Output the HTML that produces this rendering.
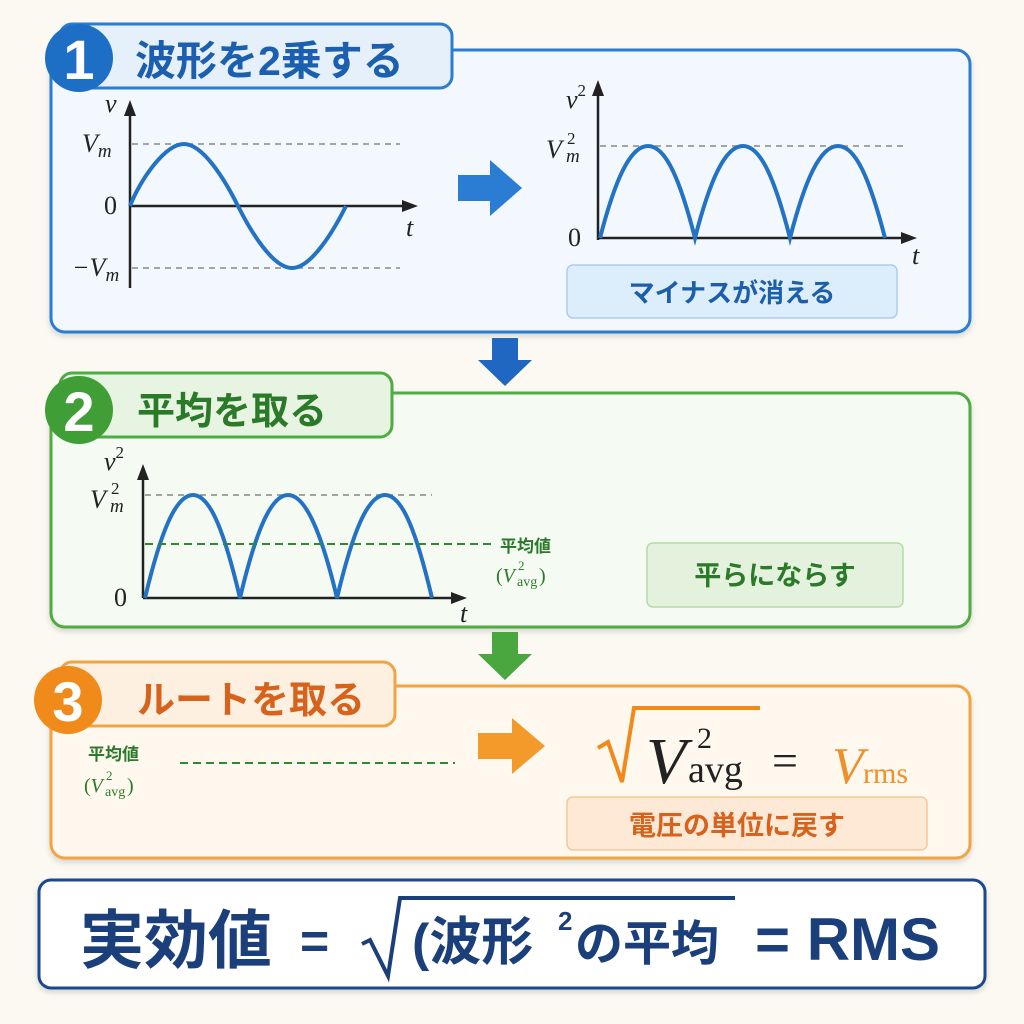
<!DOCTYPE html>
<html><head><meta charset="utf-8"><style>
html,body{margin:0;padding:0;background:#fbf9f2;}
svg{display:block}
.jp{font-family:"Liberation Sans","Noto Sans CJK JP",sans-serif;font-weight:bold}
.m{font-family:"Liberation Serif",serif;font-style:italic}
.r{font-family:"Liberation Serif",serif}
</style></head><body>
<svg width="1024" height="1024" viewBox="0 0 1024 1024" xmlns="http://www.w3.org/2000/svg">
<defs>
<filter id="sh" x="-5%" y="-5%" width="110%" height="115%"><feDropShadow dx="0" dy="3" stdDeviation="3" flood-opacity="0.15"/></filter>
</defs>
<rect width="1024" height="1024" fill="#fbf9f2"/>

<!-- Panel 1 -->
<rect x="51" y="50" width="919" height="282" rx="14" fill="#f3f8fe" stroke="#2a7dd2" stroke-width="3" filter="url(#sh)"/>
<rect x="60" y="24" width="392" height="64" rx="12" fill="#e5f0fb" stroke="#2a7dd2" stroke-width="3"/>
<circle cx="79" cy="58" r="34" fill="#1c6fc4"/>
<text x="79" y="79" text-anchor="middle" class="jp" font-size="56" fill="#fff">1</text>
<text x="135" y="75" class="jp" font-size="41" fill="#1b5fae">波形を2乗する</text>

<!-- graph 1 -->
<g stroke="#888" stroke-width="1.5" stroke-dasharray="6,5">
<line x1="132" y1="144" x2="400" y2="144"/><line x1="132" y1="268" x2="400" y2="268"/>
</g>
<line x1="130" y1="288" x2="130" y2="112" stroke="#222" stroke-width="2.5"/>
<polygon points="130,100 124,116 136,116" fill="#222"/>
<line x1="130" y1="206" x2="405" y2="206" stroke="#222" stroke-width="2.5"/>
<polygon points="418,206 402,200 402,212" fill="#222"/>
<path d="M130,206 C140,180 165,144 184,144 C203,144 225,180 238,206 C251,232 273,268 292,268 C311,268 333,232 346,206" fill="none" stroke="#2372c4" stroke-width="4"/>
<text x="105" y="112" class="m" font-size="26" fill="#222">v</text>
<text x="82" y="152" class="m" font-size="26" fill="#222">V<tspan font-size="19" dy="5">m</tspan></text>
<text x="104" y="214" class="r" font-size="26" fill="#222">0</text>
<text x="72" y="276" class="m" font-size="26" fill="#222">−V<tspan font-size="19" dy="5">m</tspan></text>
<text x="406" y="236" class="m" font-size="26" fill="#222">t</text>

<!-- blue arrow -->
<polygon points="458,175 490,175 490,160 522,188 490,216 490,201 458,201" fill="#2a7dd2"/>

<!-- graph 2 -->
<line x1="600" y1="146" x2="908" y2="146" stroke="#888" stroke-width="1.5" stroke-dasharray="6,5"/>
<line x1="598" y1="240" x2="598" y2="92" stroke="#222" stroke-width="2.5"/>
<polygon points="598,80 592,96 604,96" fill="#222"/>
<line x1="598" y1="238" x2="905" y2="238" stroke="#222" stroke-width="2.5"/>
<polygon points="917,238 901,232 901,244" fill="#222"/>
<path d="M600,238 C615,180 630,146 648,146 C666,146 680,180 695,238 C710,180 725,146 743,146 C761,146 775,180 790,238 C805,180 820,146 838,146 C856,146 870,180 885,238" fill="none" stroke="#2372c4" stroke-width="4"/>
<text x="566" y="108" class="m" font-size="26" fill="#222">v<tspan class="r" font-style="normal" font-size="17" dy="-12">2</tspan></text>
<text x="546" y="158" class="m" font-size="26" fill="#222">V</text>
<text x="567" y="144" class="r" font-size="17" fill="#222">2</text>
<text x="566" y="162" class="m" font-size="19" fill="#222">m</text>
<text x="568" y="246" class="r" font-size="26" fill="#222">0</text>
<text x="912" y="264" class="m" font-size="26" fill="#222">t</text>
<rect x="567" y="265" width="330" height="53" rx="6" fill="#dcedfb" stroke="#a9cdef" stroke-width="1.5"/>
<text x="732" y="302" text-anchor="middle" class="jp" font-size="26" fill="#1d5ea8">マイナスが消える</text>

<!-- blue down arrow -->
<polygon points="492,338 518,338 518,360 532,360 505,386 478,360 492,360" fill="#1f67c0"/>

<!-- Panel 2 -->
<rect x="51" y="393" width="919" height="234" rx="14" fill="#f5faf2" stroke="#4fab43" stroke-width="3" filter="url(#sh)"/>
<rect x="60" y="373" width="332" height="64" rx="12" fill="#e8f4e2" stroke="#4fab43" stroke-width="3"/>
<circle cx="79" cy="410" r="34" fill="#3f9e36"/>
<text x="79" y="431" text-anchor="middle" class="jp" font-size="56" fill="#fff">2</text>
<text x="137" y="424" class="jp" font-size="38" fill="#2b7a2a">平均を取る</text>

<line x1="145" y1="495" x2="432" y2="495" stroke="#888" stroke-width="1.5" stroke-dasharray="6,5"/>
<line x1="143" y1="598" x2="143" y2="476" stroke="#222" stroke-width="2.5"/>
<polygon points="143,464 137,480 149,480" fill="#222"/>
<line x1="143" y1="598" x2="455" y2="598" stroke="#222" stroke-width="2.5"/>
<polygon points="467,598 451,592 451,604" fill="#222"/>
<path d="M145,598 C160,535 175,495 193,495 C211,495 225,535 240,598 C255,535 270,495 288,495 C306,495 322,535 337,598 C352,535 367,495 385,495 C403,495 417,535 432,598" fill="none" stroke="#2372c4" stroke-width="4"/>
<line x1="145" y1="544" x2="492" y2="544" stroke="#2f8a2f" stroke-width="2" stroke-dasharray="8,5"/>
<text x="104" y="470" class="m" font-size="26" fill="#222">v<tspan class="r" font-style="normal" font-size="17" dy="-12">2</tspan></text>
<text x="90" y="508" class="m" font-size="26" fill="#222">V</text>
<text x="111" y="494" class="r" font-size="17" fill="#222">2</text>
<text x="110" y="512" class="m" font-size="19" fill="#222">m</text>
<text x="114" y="606" class="r" font-size="26" fill="#222">0</text>
<text x="460" y="622" class="m" font-size="26" fill="#222">t</text>
<text x="500" y="552" class="jp" font-size="17" fill="#2b7a2a">平均値</text>
<text x="496" y="582" class="r" font-size="20" fill="#2b7a2a">(<tspan class="m">V</tspan></text>
<text x="518" y="570" class="r" font-size="13" fill="#2b7a2a">2</text>
<text x="517" y="586" class="r" font-size="14" fill="#2b7a2a">avg</text>
<text x="539" y="582" class="r" font-size="20" fill="#2b7a2a">)</text>
<rect x="647" y="543" width="256" height="64" rx="6" fill="#e4f2dd" stroke="#b5dba8" stroke-width="1.5"/>
<text x="775" y="585" text-anchor="middle" class="jp" font-size="27" fill="#2b7a2a">平らにならす</text>

<!-- green down arrow -->
<polygon points="492,632 518,632 518,654 532,654 505,680 478,654 492,654" fill="#4aa63e"/>

<!-- Panel 3 -->
<rect x="51" y="686" width="919" height="172" rx="14" fill="#fff8ee" stroke="#f0a443" stroke-width="3" filter="url(#sh)"/>
<rect x="60" y="662" width="335" height="64" rx="12" fill="#fdf0e0" stroke="#f0a443" stroke-width="3"/>
<circle cx="68" cy="700" r="34" fill="#f08a1a"/>
<text x="68" y="721" text-anchor="middle" class="jp" font-size="56" fill="#fff">3</text>
<text x="137" y="713" class="jp" font-size="38" fill="#d6621c">ルートを取る</text>

<text x="88" y="760" class="jp" font-size="17" fill="#2b7a2a">平均値</text>
<text x="84" y="792" class="r" font-size="20" fill="#2b7a2a">(<tspan class="m">V</tspan></text>
<text x="106" y="780" class="r" font-size="13" fill="#2b7a2a">2</text>
<text x="105" y="796" class="r" font-size="14" fill="#2b7a2a">avg</text>
<text x="127" y="792" class="r" font-size="20" fill="#2b7a2a">)</text>
<line x1="180" y1="763" x2="455" y2="763" stroke="#2f8a2f" stroke-width="2" stroke-dasharray="8,5"/>
<polygon points="478,733 512,733 512,718 545,746 512,774 512,759 478,759" fill="#f39a2a"/>
<path d="M598,748 L608,742 L622,782 L634,708 L760,708" fill="none" stroke="#f08a1a" stroke-width="4"/>
<text x="646" y="783" class="m" font-size="66" fill="#222">V</text>
<text x="697" y="748" class="r" font-size="30" fill="#222">2</text>
<text x="688" y="782" class="r" font-size="38" fill="#222">avg</text>
<text x="772" y="776" class="r" font-size="46" fill="#222">=</text>
<text x="832" y="783" class="m" font-size="52" fill="#f0902a">V</text>
<text x="863" y="783" class="r" font-size="30" fill="#f0902a">rms</text>
<rect x="567" y="797" width="360" height="53" rx="6" fill="#fde9d6" stroke="#f5c79a" stroke-width="1.5"/>
<text x="737" y="835" text-anchor="middle" class="jp" font-size="27" fill="#d6621c">電圧の単位に戻す</text>

<!-- Bottom -->
<rect x="39" y="880" width="946" height="108" rx="12" fill="#fff" stroke="#1d4a8c" stroke-width="3" filter="url(#sh)"/>
<text x="80" y="963" class="jp" font-size="64" fill="#1b3f7a">実効値</text>
<text x="300" y="958" class="jp" font-size="50" fill="#1b3f7a">=</text>
<path d="M362,944 L370,940 L388,976 L400,898 L735,898" fill="none" stroke="#1b3f7a" stroke-width="4"/>
<text x="412" y="960" class="jp" font-size="52" fill="#1b3f7a">(波形</text>
<text x="558" y="930" class="jp" font-size="26" fill="#1b3f7a">2</text>
<text x="575" y="960" class="jp" font-size="48" fill="#1b3f7a">の平均</text>
<text x="755" y="960" class="jp" font-size="60" fill="#1b3f7a">= RMS</text>
</svg>
</body></html>
